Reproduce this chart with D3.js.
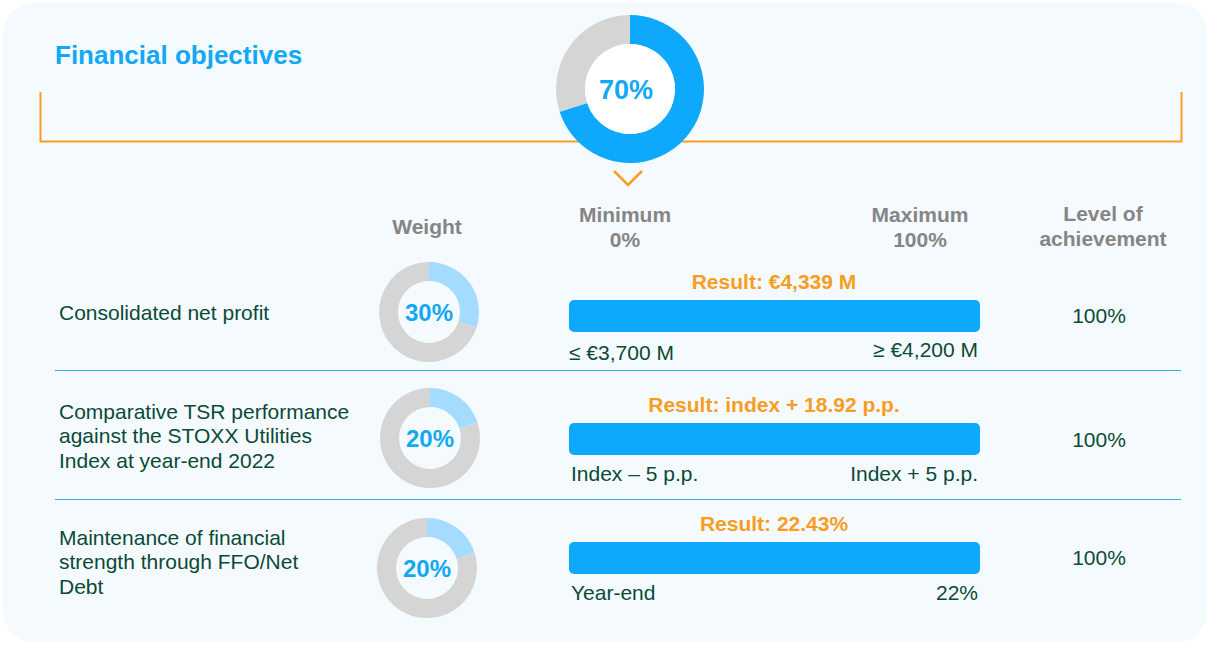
<!DOCTYPE html>
<html>
<head>
<meta charset="utf-8">
<script src="https://cdn.jsdelivr.net/npm/d3@7/dist/d3.min.js"></script>
<style>
  html, body { margin: 0; padding: 0; background: #ffffff; }
  svg { display: block; font-family: "Liberation Sans", Arial, sans-serif; }
</style>
</head>
<body>
<svg id="chart" width="1209" height="645"></svg>
<script>
// Objectives and their figures
const objectives = [
  ["Consolidated net profit"],
  ["Comparative TSR performance", "against the STOXX Utilities", "Index at year-end 2022"],
  ["Maintenance of financial", "strength through FFO/Net", "Debt"]
];
const weights = [30, 20, 20];
const results = ["Result: €4,339 M", "Result: index + 18.92 p.p.", "Result: 22.43%"];
const minLabels = ["≤ €3,700 M", "Index – 5 p.p.", "Year-end"];
const maxLabels = ["≥ €4,200 M", "Index + 5 p.p.", "22%"];
const achievement = [100, 100, 100];
const scaleLabels = [["Minimum", "0%"], ["Maximum", "100%"]];

const BLUE = "#0ea8fd", LIGHT = "#a3dcff", GREY = "#d5d5d5", ORANGE = "#f89d22",
      GREEN = "#0b4a36", HEAD = "#858585";

const svg = d3.select("#chart");

// panel
svg.append("rect").attr("x", 3).attr("y", 3).attr("width", 1204).attr("height", 639)
  .attr("rx", 30).attr("fill", "#f5faff");

// title
svg.append("text").attr("x", 55).attr("y", 55).attr("dy", "0.35em").attr("fill", "#12a8f5")
  .attr("font-size", 26).attr("font-weight", "bold").text("Financial objectives");

// orange bracket
svg.append("path").attr("d", "M40.5,92 V141.5 H1181.5 V92")
  .attr("fill", "none").attr("stroke", ORANGE).attr("stroke-width", 2);

// total weight donut
const total = d3.sum(weights);
const pie = d3.pie().sort(null).value(d => d);
const bigArc = d3.arc().innerRadius(45).outerRadius(74);
const big = svg.append("g").attr("transform", "translate(630,89)");
big.append("circle").attr("r", 74).attr("fill", "#f5faff");
big.selectAll("path").data(pie([total, 100 - total])).join("path")
  .attr("d", bigArc).attr("fill", (d, i) => i === 0 ? BLUE : GREY);
big.append("circle").attr("r", 45).attr("fill", "#ffffff");
big.append("text").attr("x", -4).attr("text-anchor", "middle").attr("dy", "0.36em")
  .attr("fill", "#12a8f5").attr("font-size", 27).attr("font-weight", "bold").text(total + "%");

// chevron
svg.append("path").attr("d", "M614,171 L628,185 L642,171")
  .attr("fill", "none").attr("stroke", ORANGE).attr("stroke-width", 2.5);

// column headers
const head = (x, lines, y0) => {
  const t = svg.append("text").attr("text-anchor", "middle").attr("fill", HEAD)
    .attr("font-size", 21).attr("font-weight", "bold");
  lines.forEach((l, i) => t.append("tspan").attr("x", x).attr("y", y0 + i * 25).attr("dy", "0.35em").text(l));
};
head(427, ["Weight"], 227);
head(625, scaleLabels[0], 215);
head(920, scaleLabels[1], 215);
head(1103, ["Level of", "achievement"], 214);

// row geometry
const rowCenter = [312, 438, 568];
const labelCenter = [313, 436, 562];
const barTop = [300, 423, 542];
const x = d3.scaleLinear().domain([0, 100]).range([569, 980]);

// separators
[370, 499].forEach(y => svg.append("line").attr("x1", 55).attr("x2", 1181)
  .attr("y1", y + 0.5).attr("y2", y + 0.5).attr("stroke", "#2fb3f5").attr("stroke-width", 1));

const smallArc = d3.arc().innerRadius(31).outerRadius(50);
const donutX = [429, 430, 427];

objectives.forEach((lines, i) => {
  const cy = rowCenter[i];
  // objective name
  const t = svg.append("text").attr("fill", GREEN).attr("font-size", 21);
  const y0 = labelCenter[i] - (lines.length - 1) * 12.3;
  lines.forEach((l, j) => t.append("tspan").attr("x", 59).attr("y", y0 + j * 24.6).attr("dy", "0.35em").text(l));

  // weight donut
  const g = svg.append("g").attr("transform", `translate(${donutX[i]},${cy})`);
  g.selectAll("path").data(pie([weights[i], 100 - weights[i]])).join("path")
    .attr("d", smallArc).attr("fill", (d, k) => k === 0 ? LIGHT : GREY);
  g.append("text").attr("text-anchor", "middle").attr("dy", "0.36em")
    .attr("fill", "#12a8f5").attr("font-size", 24).attr("font-weight", "bold").text(weights[i] + "%");

  // result label
  svg.append("text").attr("x", 774).attr("y", barTop[i] - 18).attr("dy", "0.35em")
    .attr("text-anchor", "middle").attr("fill", ORANGE).attr("font-size", 21)
    .attr("font-weight", "bold").text(results[i]);

  // achievement bar
  svg.append("rect").attr("x", x(0)).attr("y", barTop[i])
    .attr("width", x(achievement[i]) - x(0)).attr("height", 32).attr("rx", 5).attr("fill", BLUE);

  // scale ends
  const ly = barTop[i] + 51;
  svg.append("text").attr("x", i === 0 ? 569 : 571).attr("y", ly + (i === 0 ? 2 : 0)).attr("dy", "0.35em")
    .attr("fill", GREEN).attr("font-size", 21).text(minLabels[i]);
  svg.append("text").attr("x", 978).attr("y", ly - (i === 0 ? 1 : 0)).attr("dy", "0.35em").attr("text-anchor", "end")
    .attr("fill", GREEN).attr("font-size", 21).text(maxLabels[i]);

  // level of achievement
  svg.append("text").attr("x", 1099).attr("y", [316, 440, 558][i]).attr("dy", "0.35em")
    .attr("text-anchor", "middle").attr("fill", GREEN).attr("font-size", 21).text(achievement[i] + "%");
});
</script>
</body>
</html>
